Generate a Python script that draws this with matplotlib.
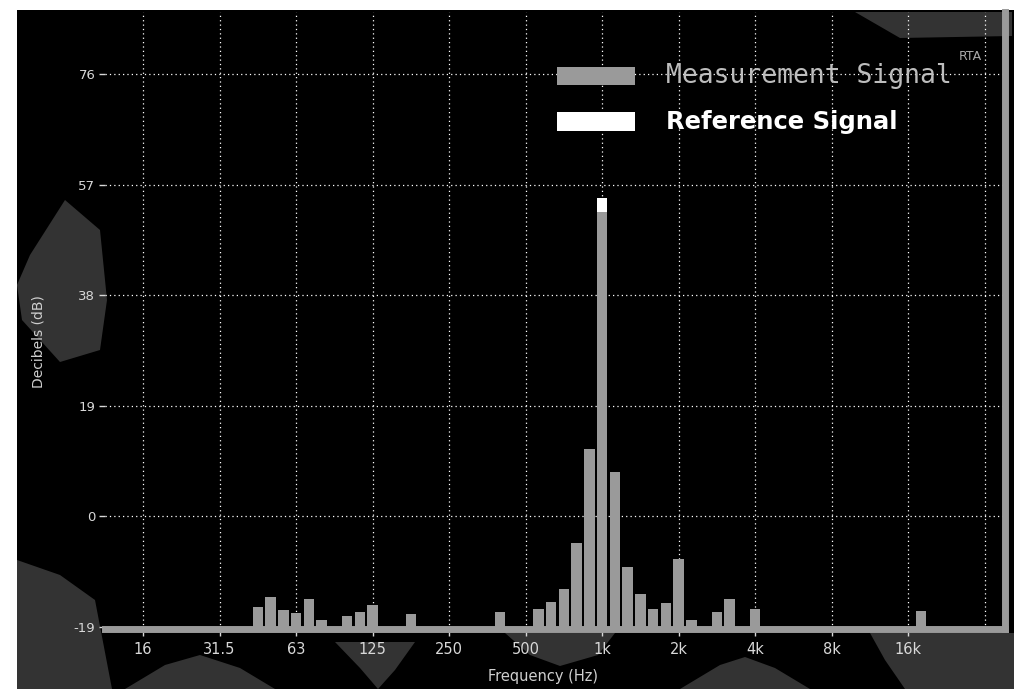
import matplotlib
matplotlib.use("Agg")
import matplotlib.pyplot as plt
from matplotlib.patches import Rectangle, Polygon

# 1/6-octave band centres (Hz) that show above the floor
band_freqs = [44.2, 49.6, 55.7, 62.5, 70.2, 78.7, 99.2, 111.4, 125.0, 176.8,
              397.0, 561.2, 630.0, 707.1, 793.7, 890.9, 1000.0, 1122.5, 1259.9,
              1414.2, 1587.4, 1781.8, 2000.0, 2244.9, 2828.4, 3174.8, 4000.0, 17959.4]
measured_db = [-15.6, -13.9, -16.2, -16.7, -14.3, -17.9, -17.2, -16.5, -15.3, -16.8,
               -16.5, -15.9, -14.8, -12.6, -4.6, 11.6, 52.3, 7.6, -8.8,
               -13.3, -15.9, -15.0, -7.3, -17.9, -16.5, -14.3, -16.0, -16.3]
ref_freqs = [1000.0]
ref_db = [54.7]

octave_ticks = [15.625, 31.25, 62.5, 125, 250, 500, 1000, 2000, 4000, 8000, 16000]
octave_labels = ["16", "31.5", "63", "125", "250", "500", "1k", "2k", "4k", "8k", "16k"]
grid_freqs = octave_ticks + [32000]
db_ticks = [-19, 0, 19, 38, 57, 76]
db_labels = ["-19", "0", "19", "38", "57", "76"]

Y_MIN, Y_MAX = -19.4, 86.7
X_MIN, X_MAX = 11.07, 38500
HALF = 0.41 / 6  # half bar width in octaves

W, H = 1014, 689

# grey blotches of the screen background (pixel outlines)
haze = [
    [(65, 200), (100, 230), (107, 300), (100, 350), (60, 362), (22, 320), (17, 285), (30, 255)],
    [(17, 560), (60, 575), (95, 600), (112, 689), (17, 689)],
    [(125, 689), (165, 665), (200, 655), (240, 668), (275, 689)],
    [(335, 642), (415, 642), (395, 670), (378, 689), (360, 668)],
    [(505, 633), (615, 633), (598, 655), (560, 666), (530, 655)],
    [(680, 689), (720, 665), (745, 657), (775, 668), (810, 689)],
    [(870, 633), (1014, 633), (1014, 689), (905, 689), (885, 660)],
    [(855, 12), (1012, 12), (1012, 36), (900, 38)],
]


def band_edges(freqs):
    left = [f * 2 ** (-HALF) for f in freqs]
    width = [f * (2 ** HALF - 2 ** (-HALF)) for f in freqs]
    return left, width


def px(pts):
    return [(x / W, 1 - y / H) for x, y in pts]


fig = plt.figure(figsize=(W / 100, H / 100), dpi=100, facecolor="white")
fig.patches.append(Rectangle((17 / W, 0), 1, 1 - 10 / H, transform=fig.transFigure,
                             facecolor="black", edgecolor="none", zorder=-10))
for blob in haze:
    fig.patches.append(Polygon(px(blob), closed=True, transform=fig.transFigure,
                               facecolor="#333333", edgecolor="none", zorder=-9))

ax = fig.add_axes([105 / W, 1 - 629 / H, 900 / W, 617 / H])
ax.set_facecolor("none")
ax.set_xscale("log", base=2)
ax.set_xlim(X_MIN, X_MAX)
ax.set_ylim(Y_MIN, Y_MAX)

# grid
for f in grid_freqs:
    ax.axvline(f, color="white", lw=0.9, ls=(0, (1, 2.5)), zorder=1)
for d in db_ticks[1:]:
    ax.axhline(d, color="white", lw=0.9, ls=(0, (1, 2.5)), zorder=1)

rl, rw = band_edges(ref_freqs)
ref = ax.bar(rl, [d - Y_MIN for d in ref_db], width=rw, bottom=Y_MIN, align="edge",
             color="white", zorder=2, label="Reference Signal")
ml, mw = band_edges(band_freqs)
meas = ax.bar(ml, [d - Y_MIN for d in measured_db], width=mw, bottom=Y_MIN, align="edge",
              color="#9a9a9a", zorder=3, label="Measurement Signal")

ax.set_xticks(octave_ticks)
ax.set_xticklabels(octave_labels)
ax.xaxis.set_minor_locator(plt.NullLocator())
ax.set_yticks(db_ticks)
ax.set_yticklabels(db_labels)
ax.tick_params(axis="x", colors="#d8d8d8", length=5, width=1, labelsize=10.5, pad=4)
ax.tick_params(axis="y", colors="#d8d8d8", length=4, width=1, labelsize=9.5, pad=3)

for s in ["top", "left"]:
    ax.spines[s].set_visible(False)
for s in ["bottom", "right"]:
    ax.spines[s].set_color("#9a9a9a")
    ax.spines[s].set_linewidth(5)

leg = ax.legend(handles=[meas, ref], loc="upper left",
                bbox_to_anchor=(557 / W, 1 - 63 / H), bbox_transform=fig.transFigure,
                frameon=False, fontsize=15, handlelength=3.75, handleheight=1.0,
                handletextpad=1.5, labelspacing=1.0, borderpad=0, borderaxespad=0)
t_meas, t_ref = leg.get_texts()
t_meas.set_color("#bdbdbd")
t_meas.set_family("DejaVu Sans Mono")
t_meas.set_fontsize(19)
t_ref.set_color("white")
t_ref.set_fontweight("bold")
t_ref.set_fontsize(17.5)

fig.text(970 / W, 1 - 57 / H, "RTA", color="#aaaaaa", fontsize=9, ha="center", va="center")
fig.text(38 / W, 1 - 342 / H, "Decibels (dB)", color="#cfcfcf", fontsize=10,
         rotation=90, ha="center", va="center")
fig.text(543 / W, 1 - 677 / H, "Frequency (Hz)", color="#cfcfcf", fontsize=10.5,
         ha="center", va="center")

fig.savefig("out.png", dpi=100, facecolor=fig.get_facecolor())
